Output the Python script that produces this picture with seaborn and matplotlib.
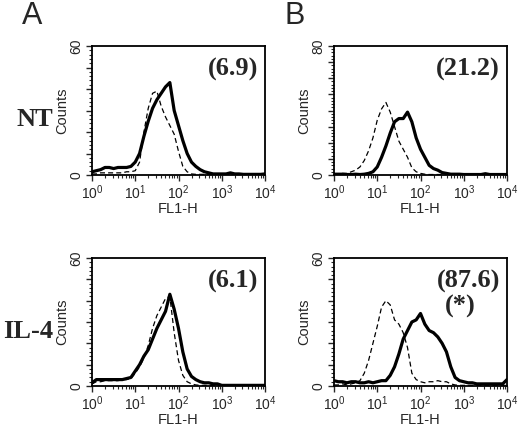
import numpy as np
import pandas as pd
import matplotlib
matplotlib.use("Agg")
import matplotlib.pyplot as plt
import matplotlib.ticker as mticker
import seaborn as sns

# log10 of FL1-H channel positions (shared bins)
log_fl1 = [0.0, 0.1, 0.2, 0.3, 0.4, 0.5, 0.6, 0.7, 0.8, 0.9,
           1.0, 1.1, 1.2, 1.3, 1.4, 1.5, 1.6, 1.7, 1.8, 1.9,
           2.0, 2.1, 2.2, 2.3, 2.4, 2.5, 2.6, 2.7, 2.8, 2.9,
           3.0, 3.1, 3.2, 3.3, 3.4, 3.5, 3.6, 3.7, 3.8, 3.9, 4.0]

# panel A, NT
a_nt_stain = [1.5, 2, 2.5, 3.5, 3.5, 3, 3.5, 3.5, 3.5, 4,
              6, 10, 18, 25, 31, 35, 38, 41, 43, 30,
              23, 16, 10, 6, 4, 2.5, 1.5, 1, 0.5, 0.5,
              0.5, 0.5, 1, 0.5, 0.5, 0.3, 0.3, 0.3, 0.3, 0.3, 0.5]
a_nt_ctrl = [0.5, 0.5, 1, 1, 1, 1, 1, 1, 1.5, 1.5,
             2, 6, 20, 31, 38, 39, 32, 27, 23, 19,
             11, 4, 1.5, 0.5, 0.3, 0.3, 0.3, 0.3, 0.3, 0.3,
             0.3, 0.3, 0.3, 0.3, 0.3, 0.3, 0.3, 0.3, 0.3, 0.3, 0.3]

# panel B, NT
b_nt_stain = [0.5, 0.5, 0.5, 0.3, 0.3, 0.5, 0.3, 0.5, 1, 2,
              5, 11, 18, 26, 33, 35, 35, 39, 33, 23,
              16, 11, 6, 4, 3, 1.5, 1, 0.5, 0.5, 0.5,
              0.3, 0.3, 0.3, 0.3, 0.3, 0.8, 0.3, 0.3, 0.3, 0.3, 0.3]
b_nt_ctrl = [0.3, 0.5, 1, 1, 2, 3, 5, 9, 15, 23,
             34, 41, 45, 39, 30, 21, 16, 11, 4.5, 2,
             1, 0.5, 0.3, 0.3, 0.3, 0.3, 0.3, 0.3, 0.3, 0.3,
             0.3, 0.3, 0.3, 0.3, 0.3, 0.3, 0.3, 0.3, 0.3, 0.3, 0.3]

# panel A, IL-4
a_il4_stain = [1.5, 3, 3, 3, 3, 3, 3, 3, 3.5, 4,
               7, 10, 14, 17, 22, 27, 31, 35, 43, 36,
               27, 16, 8, 4.5, 3, 2, 1.5, 1.5, 1, 1,
               0.3, 0.3, 0.3, 0.3, 0.3, 0.3, 0.3, 0.3, 0.3, 0.3, 0.3]
a_il4_ctrl = [1, 2, 2, 2.5, 2.5, 2.5, 2.5, 3, 3, 3.5,
              6, 9, 13, 19, 27, 33, 37, 41, 42, 25,
              12, 5, 2, 1, 0.5, 0.3, 0.3, 0.3, 0.3, 0.3,
              0.3, 0.3, 0.3, 0.3, 0.3, 0.3, 0.3, 0.3, 0.3, 0.3, 0.3]

# panel B, IL-4
b_il4_stain = [2.5, 2, 2, 1.5, 2, 2, 1.5, 1.5, 2, 1.5,
               2, 2.5, 2.5, 5, 9, 15, 22, 26, 30, 31,
               34, 29, 26, 25, 23, 20, 16, 9, 4, 2.5,
               2, 1.5, 1.5, 1, 1, 1, 1, 1, 1, 1, 3]
b_il4_ctrl = [0.5, 0.5, 1, 0.5, 1, 1.5, 2.5, 6, 12, 20,
              28, 37, 40, 38, 31, 29, 25, 18, 6, 3,
              2, 1.5, 2, 2, 2.5, 2, 2, 1, 0.5, 0.3,
              0.3, 0.3, 0.3, 0.3, 0.3, 0.3, 0.3, 0.3, 0.3, 0.3, 0.3]

panels = [
    # stain, control, ymax, value, extra, position
    (a_nt_stain, a_nt_ctrl, 60, "(6.9)", None, [92/520, 1-175/429, 173/520, 129/429]),
    (b_nt_stain, b_nt_ctrl, 80, "(21.2)", None, [334/520, 1-175/429, 173/520, 129/429]),
    (a_il4_stain, a_il4_ctrl, 60, "(6.1)", None, [92/520, 1-386/429, 173/520, 128/429]),
    (b_il4_stain, b_il4_ctrl, 60, "(87.6)", "(*)", [334/520, 1-386/429, 173/520, 128/429]),
]

sns.set_style("ticks")
plt.rcParams['font.family'] = ['Liberation Sans', 'DejaVu Sans']
plt.rcParams['mathtext.default'] = 'regular'

fig = plt.figure(figsize=(5.2, 4.29), dpi=100)
fl1 = 10 ** np.array(log_fl1)

for stain, ctrl, ymax, value, extra, pos in panels:
    ax = fig.add_axes(pos)
    df = pd.DataFrame({"FL1-H": fl1, "stain": stain, "ctrl": ctrl})
    sns.lineplot(data=df, x="FL1-H", y="ctrl", ax=ax, color="black", lw=0.9,
                 linestyle=(0, (4, 2.5)))
    sns.lineplot(data=df, x="FL1-H", y="stain", ax=ax, color="black", lw=2.3)
    ax.set_xscale("log")
    ax.set_xlim(1, 1e4)
    ax.set_ylim(0, ymax)
    ax.xaxis.set_major_locator(mticker.LogLocator(base=10, numticks=10))
    ax.xaxis.set_minor_locator(mticker.LogLocator(base=10, subs=np.arange(2, 10), numticks=10))
    ax.xaxis.set_minor_formatter(mticker.NullFormatter())
    ax.yaxis.set_major_locator(mticker.MultipleLocator(10))
    ax.yaxis.set_minor_locator(mticker.MultipleLocator(2))
    ax.yaxis.set_major_formatter(mticker.FuncFormatter(
        lambda v, p, m=ymax: f"{v:.0f}" if v in (0, m) else ""))
    ax.tick_params(which="major", direction="out", length=4.5, width=1, labelsize=10, pad=1.5)
    ax.tick_params(which="minor", direction="out", length=2.5, width=0.8)
    for lab in ax.get_yticklabels():
        lab.set_rotation(90)
        lab.set_va("center")
    for s in ax.spines.values():
        s.set_linewidth(1.3)
        s.set_color("black")
    ax.set_xlabel("FL1-H", fontsize=10.5, labelpad=0)
    ax.set_ylabel("Counts", fontsize=10.5, labelpad=0)
    ax.text(0.96, 0.82, value, transform=ax.transAxes, ha="right", va="center",
            fontsize=19, fontweight="bold", family="Liberation Serif")
    if extra:
        ax.text(0.73, 0.625, extra, transform=ax.transAxes, ha="center", va="center",
                fontsize=19, fontweight="bold", family="Liberation Serif")

fig.text(32/520, 1-16/429, "A", fontsize=22, ha="center", va="center")
fig.text(295/520, 1-16/429, "B", fontsize=22, ha="center", va="center")
fig.text(35/520, 1-119/429, "NT", fontsize=19, fontweight="bold",
         family="Liberation Serif", ha="center", va="center")
fig.text(28/520, 1-332/429, "IL-4", fontsize=19, fontweight="bold",
         family="Liberation Serif", ha="center", va="center")

fig.savefig("out.png", dpi=100)
